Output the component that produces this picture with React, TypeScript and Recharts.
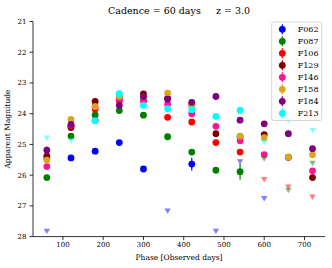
import { ScatterChart, Scatter, XAxis, YAxis, ErrorBar } from 'recharts';

const FONT = '"DejaVu Serif", serif';

// observed phases (days)
const phases = [60, 120, 180, 240, 300, 360, 420, 480, 540, 600, 660, 720];

const filters = ['F062', 'F087', 'F106', 'F129', 'F146', 'F158', 'F184', 'F213'];
const colors = ['#0000ff', '#008000', '#ff0000', '#800000', '#ff1493', '#daa520', '#800080', '#00ffff'];

// detections (null = no detection)
const magF062 = [null, 25.44, 25.22, 24.94, 25.8, null, 25.64, null, null, null, null, null];
const magF087 = [26.08, 24.73, 24.04, 23.9, 24.05, 24.75, 25.25, 25.84, 25.89, null, null, null];
const magF106 = [25.45, 24.42, 23.85, 23.58, 23.58, 24.12, 24.27, 24.94, 25.25, null, null, null];
const magF129 = [25.38, 24.45, 23.6, 23.45, 23.36, 23.5, 23.71, 24.65, 24.75, 24.68, 25.42, 26.08];
const magF146 = [25.72, 24.38, 23.77, 23.56, 23.58, 23.69, 24.0, 24.41, 24.88, 25.33, 25.42, 25.86];
const magF158 = [25.51, 24.19, 23.77, 23.44, 23.46, 23.33, 23.74, null, 24.73, 24.78, 25.41, 25.34];
const magF184 = [25.19, 24.35, 24.22, 23.73, 23.45, 23.53, 23.63, 23.44, 24.21, 24.33, 24.65, 25.14];
const magF213 = [null, null, 24.23, 23.35, 23.73, 23.84, 23.87, 24.09, 23.89, null, null, null];

// magnitude errors
const errF062 = [0, 0, 0, 0, 0, 0, 0.21, 0, 0, 0, 0, 0];
const errF087 = [0, 0, 0, 0, 0, 0, 0, 0, 0.26, 0, 0, 0];
const errF106 = [0, 0, 0, 0, 0, 0, 0, 0, 0, 0, 0, 0];
const errF129 = [0, 0, 0, 0, 0, 0, 0, 0, 0, 0, 0, 0.1];
const errF146 = [0, 0, 0, 0, 0, 0, 0, 0, 0, 0, 0, 0];
const errF158 = [0, 0, 0, 0, 0, 0, 0, 0, 0, 0, 0, 0];
const errF184 = [0.12, 0, 0, 0, 0, 0, 0, 0, 0, 0, 0, 0.08];
const errF213 = [0, 0, 0, 0, 0, 0, 0, 0, 0.1, 0, 0, 0];

// upper limits
const limF062 = [27.82, null, null, null, null, 27.16, null, 27.82, 25.56, 26.76, null, null];
const limF087 = [null, null, null, null, null, null, null, null, null, 25.47, 26.49, 25.61];
const limF106 = [null, null, null, null, null, null, null, null, null, 26.14, 26.38, 26.71];
const limF129 = [null, null, null, null, null, null, null, null, null, null, null, null];
const limF146 = [null, null, null, null, null, null, null, null, null, null, null, null];
const limF158 = [null, null, null, null, null, null, null, null, null, null, null, null];
const limF184 = [null, null, null, null, null, null, null, null, null, null, null, null];
const limF213 = [24.79, 24.88, null, null, null, null, null, null, null, 24.93, 24.21, 24.54];

const xTicks = [100, 200, 300, 400, 500, 600, 700];
const yTicks = [21, 22, 23, 24, 25, 26, 27, 28];

const mags = [magF062, magF087, magF106, magF129, magF146, magF158, magF184, magF213];
const errs = [errF062, errF087, errF106, errF129, errF146, errF158, errF184, errF213];
const lims = [limF062, limF087, limF106, limF129, limF146, limF158, limF184, limF213];

const detData = mags.map((m, f) =>
  phases.map((p, i) => ({ phase: p, mag: m[i], err: errs[f][i] })).filter((d) => d.mag != null)
);
const limData = lims.map((l) =>
  phases.map((p, i) => ({ phase: p, mag: l[i] })).filter((d) => d.mag != null)
);

const dot = (color: string) => (props: any) =>
  <circle cx={props.cx} cy={props.cy} r={3.4} fill={color} />;

const tri = (color: string) => (props: any) => {
  const { cx, cy } = props;
  return (
    <path
      d={`M${cx - 3.2},${cy - 2.4} L${cx + 3.2},${cy - 2.4} L${cx},${cy + 3.0} Z`}
      fill={color}
      fillOpacity={0.5}
    />
  );
};

const tickStyle = { fontSize: 7, fill: '#000', fontFamily: FONT };
const axisLine = { stroke: '#000', strokeWidth: 0.8 };

export default function App() {
  return (
    <div style={{ position: 'absolute', left: 0, top: 0, width: 332, height: 268, background: '#fff' }}>
      <ScatterChart width={332} height={268} margin={{ top: 21.5, right: 7, bottom: 0, left: 0 }}>
        <XAxis
          dataKey="phase"
          type="number"
          domain={[25.6, 751]}
          ticks={xTicks}
          allowDataOverflow
          height={31.4}
          tickSize={3.5}
          tickMargin={1.5}
          tick={tickStyle}
          axisLine={axisLine}
          tickLine={axisLine}
          label={{ value: 'Phase [Observed days]', position: 'insideBottom', offset: 8, style: { fontSize: 7.5, fill: '#000', fontFamily: FONT } }}
        />
        <XAxis xAxisId="top" orientation="top" type="number" domain={[25.6, 751]} height={0} tick={false} tickLine={false} axisLine={axisLine} />
        <YAxis
          dataKey="mag"
          type="number"
          reversed
          domain={[21, 28]}
          ticks={yTicks}
          allowDataOverflow
          width={33}
          tickSize={3.5}
          tickMargin={3}
          tick={tickStyle}
          axisLine={axisLine}
          tickLine={axisLine}
          label={{ value: 'Apparent Magnitude', angle: -90, position: 'insideLeft', offset: 7, style: { textAnchor: 'middle', fontSize: 7.5, fill: '#000', fontFamily: FONT } }}
        />
        <YAxis yAxisId="right" orientation="right" type="number" domain={[21, 28]} width={0} tick={false} tickLine={false} axisLine={axisLine} />
        {filters.map((f, i) => (
          <Scatter key={f} name={f} data={detData[i]} shape={dot(colors[i])} isAnimationActive={false}>
            <ErrorBar dataKey="err" direction="y" width={0} stroke={colors[i]} strokeWidth={1.2} />
          </Scatter>
        ))}
        {filters.map((f, i) => (
          <Scatter key={f + '-lim'} name={f + ' limit'} data={limData[i]} shape={tri(colors[i])} isAnimationActive={false} legendType="none" />
        ))}
      </ScatterChart>
      <svg width={332} height={268} style={{ position: 'absolute', left: 0, top: 0, pointerEvents: 'none' }}>
        <text x={179} y={13.5} textAnchor="middle" fontSize={9.5} fontFamily={FONT} fill="#000" style={{ whiteSpace: 'pre' }}>
          {'Cadence = 60 days     z = 3.0'}
        </text>
        <rect x={271.7} y={22} width={50} height={98.5} rx={2} fill="#fff" fillOpacity={0.8} stroke="#ccc" strokeWidth={0.8} />
        {filters.map((f, i) => {
          const cy = 29.3 + i * 12;
          return (
            <g key={f}>
              <line x1={282.3} x2={282.3} y1={cy - 5} y2={cy + 5} stroke={colors[i]} strokeWidth={1.2} />
              <circle cx={282.3} cy={cy} r={3.4} fill={colors[i]} />
              <text x={297.7} y={cy + 2.9} fontSize={8} fontFamily={FONT} fill="#000">{f}</text>
            </g>
          );
        })}
      </svg>
    </div>
  );
}
